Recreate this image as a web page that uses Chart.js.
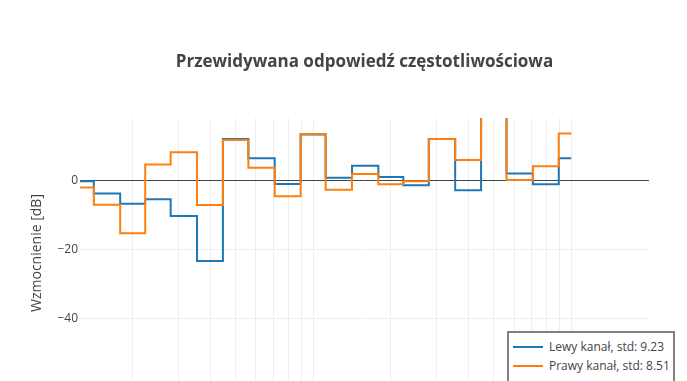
<!DOCTYPE html>
<html>
<head>
<meta charset="utf-8">
<script src="https://cdn.jsdelivr.net/npm/chart.js@4/dist/chart.umd.min.js"></script>
<style>
  html, body { margin: 0; padding: 0; background: #fff; overflow: hidden; }
  #wrap { position: relative; width: 687px; height: 440px; font-family: 'Open Sans', sans-serif; color: #444; }
  #title { position: absolute; left: 80px; width: 569px; top: 49px; line-height: 23px; text-align: center; font-size: 17px; font-weight: bold; color: #444; white-space: nowrap; }
  #legend { position: absolute; left: 507px; top: 331px; width: 168px; height: 60px; box-sizing: border-box; border: 2px solid #808080; background: #fff; }
  .lg-line { position: absolute; width: 30px; height: 2px; }
  .lg-text { position: absolute; font-size: 12px; line-height: 16px; color: #444; white-space: nowrap; }
</style>
</head>
<body>
<div id="wrap">
  <canvas id="c" width="687" height="440"></canvas>
  <div id="title">Przewidywana odpowiedź częstotliwościowa</div>
  <div id="legend"></div>
</div>
<script>
// 1/3-octave band centre frequencies [Hz]
const frequencies = [125, 160, 200, 250, 315, 400, 500, 630, 800, 1000, 1250, 1600, 2000, 2500, 3150, 4000, 5000, 6300, 8000, 10000];
// Gain [dB] per band
const leftChannel  = [-0.3, -3.8, -6.8, -5.5, -10.3, -23.3, 11.9, 6.4, -1.1, 13.2, 0.75, 4.2, 0.95, -1.45, 11.9, -2.9, 20.3, 2.0, -1.15, 6.35];
const rightChannel = [-2.1, -7.05, -15.3, 4.6, 8.1, -7.1, 11.65, 3.65, -4.6, 13.4, -2.7, 1.8, -1.15, -0.3, 11.9, 5.9, 21.6, 0.1, 4.05, 13.5];
const seriesNames = ['Lewy kanał, std: 9.23', 'Prawy kanał, std: 8.51'];
const seriesColors = ['#1f77b4', '#ff7f0e'];
const xGridValues = [200, 300, 400, 500, 600, 700, 800, 900, 1000, 2000, 3000, 4000, 5000, 6000, 7000, 8000, 9000, 10000];
const yTickValues = [-60, -40, -20, 0];
const yTitle = 'Wzmocnienie [dB]';

const toPoints = (vals) => frequencies.map((f, i) => ({ x: f, y: vals[i] }));

Chart.defaults.font.family = "'Open Sans', sans-serif";
Chart.defaults.color = '#444';

new Chart(document.getElementById('c'), {
  type: 'line',
  data: {
    datasets: [
      { label: seriesNames[0], data: toPoints(leftChannel), borderColor: seriesColors[0], backgroundColor: seriesColors[0], borderWidth: 2, pointRadius: 0, stepped: 'middle', fill: false, order: 1 },
      { label: seriesNames[1], data: toPoints(rightChannel), borderColor: seriesColors[1], backgroundColor: seriesColors[1], borderWidth: 2, pointRadius: 0, stepped: 'middle', fill: false, order: 0 }
    ]
  },
  options: {
    responsive: false,
    animation: false,
    devicePixelRatio: 1,
    layout: { padding: { left: 0, top: 118, right: 38, bottom: 52 } },
    plugins: { legend: { display: false }, tooltip: { enabled: false }, title: { display: false } },
    scales: {
      x: {
        type: 'logarithmic',
        min: 125,
        max: 20000,
        border: { display: false },
        grid: { color: '#eeeeee', lineWidth: 1, drawTicks: false },
        ticks: { display: false },
        afterBuildTicks: (s) => { s.ticks = xGridValues.map(v => ({ value: v })); }
      },
      y: {
        min: -60,
        max: 18,
        border: { display: false },
        grid: {
          drawTicks: false,
          color: (ctx) => (ctx.tick && ctx.tick.value === 0 ? '#444444' : '#eeeeee'),
          lineWidth: 1
        },
        ticks: {
          padding: 2,
          font: { size: 12 },
          color: '#444',
          callback: (v) => (v < 0 ? '\u2212' + Math.abs(v) : String(v))
        },
        afterBuildTicks: (s) => { s.ticks = yTickValues.map(v => ({ value: v })); },
        afterFit: (s) => { s.width = 80; },
        title: { display: true, text: yTitle, font: { size: 14 }, color: '#444', padding: { top: 29, bottom: 0 } }
      }
    }
  }
});

// legend box
const lg = document.getElementById('legend');
seriesNames.forEach((name, i) => {
  const ly = 14 + i * 19;
  const line = document.createElement('div');
  line.className = 'lg-line';
  line.style.left = '4px';
  line.style.top = (ly - 1) + 'px';
  line.style.background = seriesColors[i];
  lg.appendChild(line);
  const t = document.createElement('div');
  t.className = 'lg-text';
  t.style.left = '40px';
  t.style.top = (ly - 8) + 'px';
  t.textContent = name;
  lg.appendChild(t);
});
</script>
</body>
</html>
